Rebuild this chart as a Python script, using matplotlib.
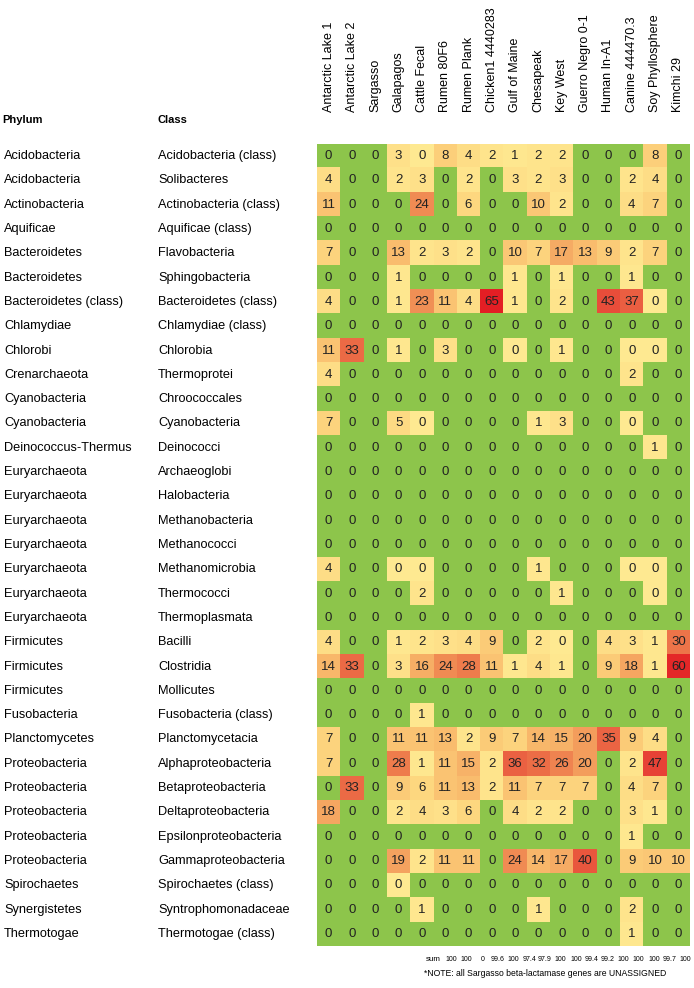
import numpy as np
import matplotlib
matplotlib.use('Agg')
import matplotlib.pyplot as plt
from matplotlib.colors import LinearSegmentedColormap, Normalize

plt.rcParams['font.family'] = ['Liberation Sans', 'DejaVu Sans']
NARROW = ['Liberation Sans Narrow', 'Liberation Sans']

# sampled metagenomes (columns)
samples = ['Antarctic Lake 1', 'Antarctic Lake 2', 'Sargasso', 'Galapagos', 'Cattle Fecal',
           'Rumen 80F6', 'Rumen Plank', 'Chicken1 4440283', 'Gulf of Maine', 'Chesapeak',
           'Key West', 'Guerro Negro 0-1', 'Human In-A1', 'Canine 444470.3', 'Soy Phyllosphere',
           'Kimchi 29']

phylum = ['Acidobacteria', 'Acidobacteria', 'Actinobacteria', 'Aquificae', 'Bacteroidetes',
          'Bacteroidetes', 'Bacteroidetes (class)', 'Chlamydiae', 'Chlorobi', 'Crenarchaeota',
          'Cyanobacteria', 'Cyanobacteria', 'Deinococcus-Thermus', 'Euryarchaeota', 'Euryarchaeota',
          'Euryarchaeota', 'Euryarchaeota', 'Euryarchaeota', 'Euryarchaeota', 'Euryarchaeota',
          'Firmicutes', 'Firmicutes', 'Firmicutes', 'Fusobacteria', 'Planctomycetes',
          'Proteobacteria', 'Proteobacteria', 'Proteobacteria', 'Proteobacteria', 'Proteobacteria',
          'Spirochaetes', 'Synergistetes', 'Thermotogae']

klass = ['Acidobacteria (class)', 'Solibacteres', 'Actinobacteria (class)', 'Aquificae (class)',
         'Flavobacteria', 'Sphingobacteria', 'Bacteroidetes (class)', 'Chlamydiae (class)',
         'Chlorobia', 'Thermoprotei', 'Chroococcales', 'Cyanobacteria', 'Deinococci',
         'Archaeoglobi', 'Halobacteria', 'Methanobacteria', 'Methanococci', 'Methanomicrobia',
         'Thermococci', 'Thermoplasmata', 'Bacilli', 'Clostridia', 'Mollicutes',
         'Fusobacteria (class)', 'Planctomycetacia', 'Alphaproteobacteria', 'Betaproteobacteria',
         'Deltaproteobacteria', 'Epsilonproteobacteria', 'Gammaproteobacteria',
         'Spirochaetes (class)', 'Syntrophomonadaceae', 'Thermotogae (class)']

# percent of genes per class; 0.3 = trace amount shown as "0" but coloured
pct = [
    [0, 0, 0, 3, 0.3, 8, 4, 2, 1, 2, 2, 0, 0, 0, 8, 0],
    [4, 0, 0, 2, 3, 0, 2, 0, 3, 2, 3, 0, 0, 2, 4, 0],
    [11, 0, 0, 0, 24, 0, 6, 0, 0, 10, 2, 0, 0, 4, 7, 0],
    [0, 0, 0, 0, 0, 0, 0, 0, 0, 0, 0, 0, 0, 0, 0, 0],
    [7, 0, 0, 13, 2, 3, 2, 0, 10, 7, 17, 13, 9, 2, 7, 0],
    [0, 0, 0, 1, 0, 0, 0, 0, 1, 0, 1, 0, 0, 1, 0, 0],
    [4, 0, 0, 1, 23, 11, 4, 65, 1, 0, 2, 0, 43, 37, 0.3, 0],
    [0, 0, 0, 0, 0, 0, 0, 0, 0, 0, 0, 0, 0, 0, 0, 0],
    [11, 33, 0, 1, 0, 3, 0, 0, 0.3, 0, 1, 0, 0, 0.3, 0.3, 0],
    [4, 0, 0, 0, 0, 0, 0, 0, 0, 0, 0, 0, 0, 2, 0, 0],
    [0, 0, 0, 0, 0, 0, 0, 0, 0, 0, 0, 0, 0, 0, 0, 0],
    [7, 0, 0, 5, 0.3, 0, 0, 0, 0, 1, 3, 0, 0, 0.3, 0, 0],
    [0, 0, 0, 0, 0, 0, 0, 0, 0, 0, 0, 0, 0, 0, 1, 0],
    [0, 0, 0, 0, 0, 0, 0, 0, 0, 0, 0, 0, 0, 0, 0, 0],
    [0, 0, 0, 0, 0, 0, 0, 0, 0, 0, 0, 0, 0, 0, 0, 0],
    [0, 0, 0, 0, 0, 0, 0, 0, 0, 0, 0, 0, 0, 0, 0, 0],
    [0, 0, 0, 0, 0, 0, 0, 0, 0, 0, 0, 0, 0, 0, 0, 0],
    [4, 0, 0, 0.3, 0.3, 0, 0, 0, 0, 1, 0, 0, 0, 0.3, 0.3, 0],
    [0, 0, 0, 0, 2, 0, 0, 0, 0, 0, 1, 0, 0, 0, 0.3, 0],
    [0, 0, 0, 0, 0, 0, 0, 0, 0, 0, 0, 0, 0, 0, 0, 0],
    [4, 0, 0, 1, 2, 3, 4, 9, 0, 2, 0.3, 0, 4, 3, 1, 30],
    [14, 33, 0, 3, 16, 24, 28, 11, 1, 4, 1, 0, 9, 18, 1, 60],
    [0, 0, 0, 0, 0, 0, 0, 0, 0, 0, 0, 0, 0, 0, 0, 0],
    [0, 0, 0, 0, 1, 0, 0, 0, 0, 0, 0, 0, 0, 0, 0, 0],
    [7, 0, 0, 11, 11, 13, 2, 9, 7, 14, 15, 20, 35, 9, 4, 0],
    [7, 0, 0, 28, 1, 11, 15, 2, 36, 32, 26, 20, 0, 2, 47, 0],
    [0, 33, 0, 9, 6, 11, 13, 2, 11, 7, 7, 7, 0, 4, 7, 0],
    [18, 0, 0, 2, 4, 3, 6, 0, 4, 2, 2, 0, 0, 3, 1, 0],
    [0, 0, 0, 0, 0, 0, 0, 0, 0, 0, 0, 0, 0, 1, 0, 0],
    [0, 0, 0, 19, 2, 11, 11, 0, 24, 14, 17, 40, 0, 9, 10, 10],
    [0, 0, 0, 0.3, 0, 0, 0, 0, 0, 0, 0, 0, 0, 0, 0, 0],
    [0, 0, 0, 0, 1, 0, 0, 0, 0, 1, 0, 0, 0, 2, 0, 0],
    [0, 0, 0, 0, 0, 0, 0, 0, 0, 0, 0, 0, 0, 1, 0, 0],
]

sums = ['100', '100', '0', '99.6', '100', '97.4', '97.9', '100', '100', '99.4', '99.2',
        '100', '100', '100', '99.7', '100']

note = '*NOTE: all Sargasso beta-lactamase genes are UNASSIGNED'

data = np.array(pct, dtype=float)
nrow, ncol = data.shape

W, H = 694, 988
fig = plt.figure(figsize=(W / 100, H / 100), dpi=100)

# table area in pixels
x0, x1 = 317, 690
y0, y1 = 144, 946
ax = fig.add_axes([x0 / W, 1 - y1 / H, (x1 - x0) / W, (y1 - y0) / H])

# yellow -> orange -> red scale for non-zero cells, flat green for zero
cmap = LinearSegmentedColormap.from_list('ylred', [
    (0.0, '#FFEA92'), (0.1, '#FDD57E'), (0.2, '#F9BC6D'), (0.37, '#F08B53'),
    (0.5, '#EC6C46'), (0.7, '#E84638'), (1.0, '#E31E24')])
norm = Normalize(0, 65)
rgba = cmap(norm(data))
rgba[data == 0] = matplotlib.colors.to_rgba('#8DC54B')

ax.imshow(rgba, aspect='auto', interpolation='nearest',
          extent=(-0.5, ncol - 0.5, nrow - 0.5, -0.5))
for i in range(nrow):
    for j in range(ncol):
        ax.text(j, i, '%.0f' % data[i, j], ha='center', va='center',
                fontsize=9.5, color='#222222', family=NARROW)
ax.set_xlim(-0.5, ncol - 0.5)
ax.set_ylim(nrow - 0.5, -0.5)
ax.axis('off')

# column headers, rotated
for j, s in enumerate(samples):
    ax.text(j, -1.8, s, rotation=90, ha='center', va='bottom', fontsize=9)

# row labels
for i in range(nrow):
    yy = 1 - (y0 + (i + 0.5) * (y1 - y0) / nrow) / H
    fig.text(4 / W, yy, phylum[i], ha='left', va='center', fontsize=9.2)
    fig.text(158 / W, yy, klass[i], ha='left', va='center', fontsize=9.2)

fig.text(2 / W, 1 - 120 / H, 'Phylum', ha='left', va='center', fontsize=8,
         fontweight='bold', family=NARROW)
fig.text(158 / W, 1 - 120 / H, 'Class', ha='left', va='center', fontsize=8,
         fontweight='bold', family=NARROW)

# sum row (a separate strip under the table) and note
sum_x = np.linspace(5.25, 15.3, len(sums))
ax.text(4.5, nrow + 0.05, 'sum', ha='center', va='center', fontsize=5.8)
for xx, s in zip(sum_x, sums):
    ax.text(xx, nrow + 0.05, s, ha='center', va='center', fontsize=5,
            family=NARROW)
fig.text(666 / W, 1 - 973 / H, note, ha='right', va='center', fontsize=6.2)

fig.savefig('out.png', dpi=100)
